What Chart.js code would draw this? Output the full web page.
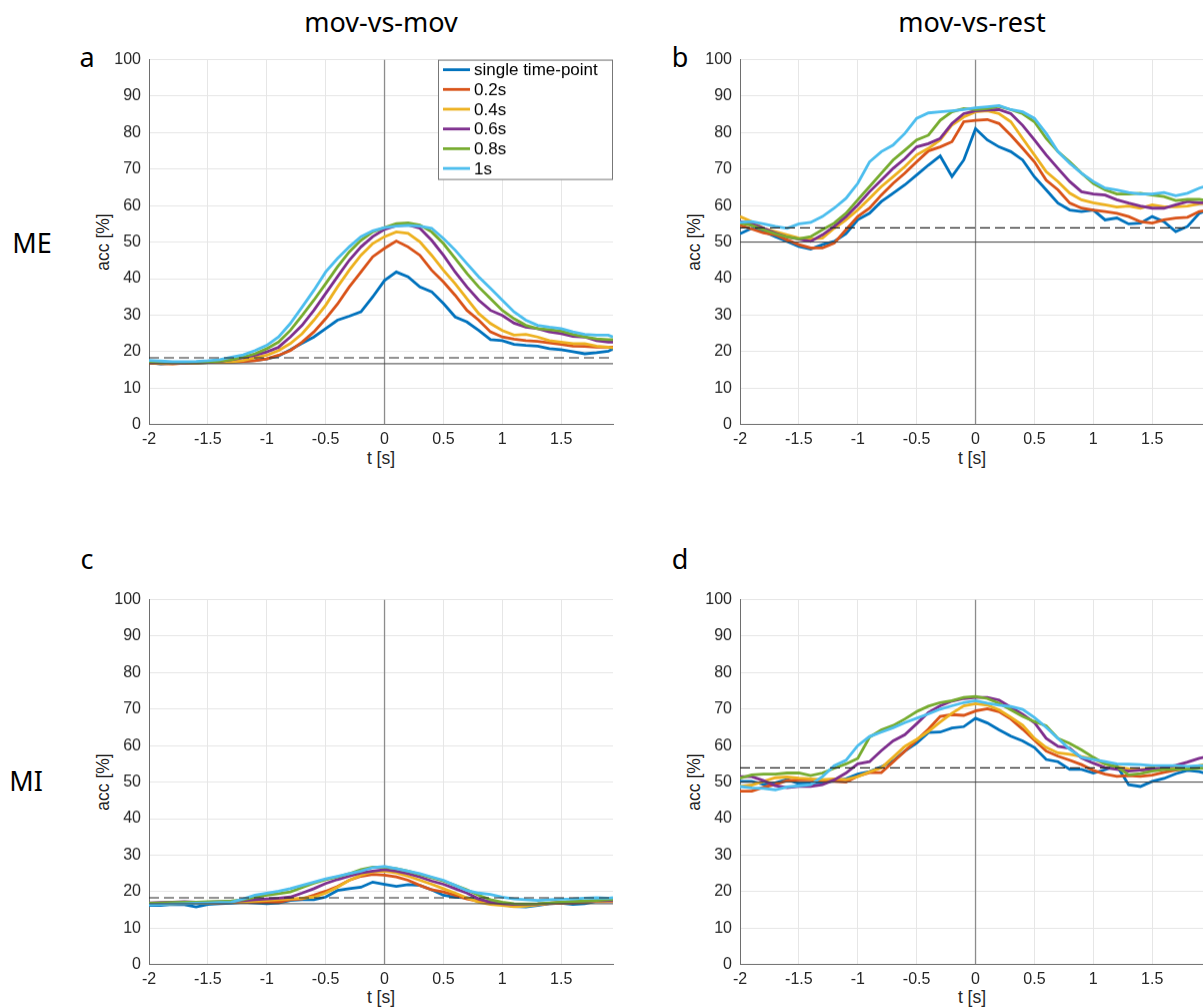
<!DOCTYPE html>
<html>
<head>
<meta charset="utf-8">
<script src="https://cdn.jsdelivr.net/npm/chart.js@4/dist/chart.umd.min.js"></script>
<style>
  body { margin: 0; width: 1203px; height: 1007px; overflow: hidden; background: #fff; position: relative; }
  canvas { position: absolute; }
  .t { position: absolute; transform: translate(-50%, -50%); white-space: nowrap; color: #000; }
  .big { font: 27px "Noto Sans", "Open Sans", sans-serif; }
  .ax { font: 17.5px "Liberation Sans", Arial, sans-serif; color: #262626; }
  .rot { transform: translate(-50%, -50%) rotate(-90deg); }
</style>
</head>
<body>
<div class="t big" style="left:381px;top:21px">mov-vs-mov</div>
<div class="t big" style="left:972px;top:21px">mov-vs-rest</div>
<div class="t big" style="left:87px;top:56px">a</div>
<div class="t big" style="left:680px;top:56px">b</div>
<div class="t big" style="left:87px;top:558px">c</div>
<div class="t big" style="left:680px;top:558px">d</div>
<div class="t big" style="left:32px;top:242px">ME</div>
<div class="t big" style="left:26px;top:780px">MI</div>
<div class="t ax rot" style="left:103px;top:242px">acc [%]</div>
<div class="t ax rot" style="left:694px;top:242px">acc [%]</div>
<div class="t ax rot" style="left:103px;top:782px">acc [%]</div>
<div class="t ax rot" style="left:694px;top:782px">acc [%]</div>
<div class="t ax" style="left:381px;top:458px">t [s]</div>
<div class="t ax" style="left:972px;top:458px">t [s]</div>
<div class="t ax" style="left:381px;top:997px">t [s]</div>
<div class="t ax" style="left:972px;top:997px">t [s]</div>

<canvas id="panelA" width="520" height="400" style="left:101px;top:50px"></canvas>
<canvas id="panelB" width="520" height="400" style="left:692px;top:50px"></canvas>
<canvas id="panelC" width="520" height="400" style="left:101px;top:590px"></canvas>
<canvas id="panelD" width="520" height="400" style="left:692px;top:590px"></canvas>

<script>
// time axis [s]
const times = [-2, -1.9, -1.8, -1.7, -1.6, -1.5, -1.4, -1.3, -1.2, -1.1, -1, -0.9, -0.8, -0.7, -0.6, -0.5, -0.4, -0.3, -0.2, -0.1,
               0, 0.1, 0.2, 0.3, 0.4, 0.5, 0.6, 0.7, 0.8, 0.9, 1, 1.1, 1.2, 1.3, 1.4, 1.5, 1.6, 1.7, 1.8, 1.9, 1.94];

const seriesLabels = ['single time-point', '0.2s', '0.4s', '0.6s', '0.8s', '1s'];
const seriesColors = ['#0072BD', '#D95319', '#EDB120', '#7E2F8E', '#77AC30', '#4DBEEE'];

// a: ME, mov-vs-mov
const aSingle = [17.0, 16.6, 16.8, 16.9, 16.8, 17.0, 17.1, 17.2, 17.3, 17.6, 18.0, 18.8, 20.5, 22.3, 24.0, 26.3, 28.6, 29.7, 30.9, 35.0,
                 39.5, 41.8, 40.5, 37.7, 36.4, 33.2, 29.5, 28.1, 25.8, 23.3, 23.0, 22.0, 21.7, 21.5, 20.8, 20.5, 20.0, 19.4, 19.7, 20.1, 20.8];
const aW02 = [16.8, 16.7, 16.6, 16.8, 16.9, 17.0, 17.0, 17.1, 17.3, 17.5, 18.0, 19.0, 20.3, 22.6, 25.4, 29.0, 33.0, 37.7, 41.8, 46.0,
              48.3, 50.3, 48.7, 46.4, 42.3, 39.1, 35.4, 31.3, 28.6, 25.4, 24.0, 23.4, 23.0, 22.8, 22.4, 22.0, 21.5, 21.4, 21.2, 21.2, 21.2];
const aW04 = [17.0, 16.8, 16.7, 16.8, 16.9, 17.0, 17.1, 17.2, 17.6, 18.3, 19.0, 20.3, 22.2, 24.9, 28.6, 32.7, 37.7, 42.3, 46.4, 49.6,
              51.5, 52.8, 52.4, 50.1, 46.4, 42.3, 38.6, 34.5, 30.4, 27.7, 25.8, 24.5, 24.7, 24.0, 23.0, 22.6, 22.2, 22.2, 21.5, 21.2, 21.0];
const aW06 = [17.2, 17.0, 16.9, 16.9, 17.0, 17.1, 17.3, 17.8, 18.3, 19.0, 19.9, 21.2, 24.0, 27.2, 31.3, 35.9, 40.5, 45.0, 48.7, 51.5,
              53.5, 54.5, 54.7, 53.8, 50.5, 46.4, 41.8, 37.7, 34.1, 31.3, 29.9, 27.8, 26.7, 26.3, 25.4, 24.9, 24.2, 24.0, 23.0, 22.6, 22.6];
const aW08 = [17.3, 17.1, 17.0, 17.0, 17.1, 17.2, 17.4, 17.8, 18.5, 19.4, 20.8, 22.6, 25.8, 29.9, 34.1, 38.6, 43.2, 47.3, 50.5, 52.8,
              54.0, 55.1, 55.3, 54.7, 52.8, 49.6, 45.5, 41.4, 37.7, 34.5, 31.3, 29.0, 27.2, 26.3, 26.0, 25.6, 24.7, 24.0, 23.5, 23.3, 23.3];
const aW10 = [17.6, 17.4, 17.2, 17.2, 17.3, 17.5, 17.8, 18.5, 19.1, 20.3, 21.7, 24.0, 27.7, 32.2, 36.8, 41.8, 45.5, 48.7, 51.5, 53.1,
              54.0, 54.4, 54.6, 54.4, 53.8, 51.0, 47.8, 44.1, 40.5, 37.3, 34.1, 30.9, 28.6, 27.2, 26.7, 26.3, 25.4, 24.7, 24.5, 24.5, 24.0];

// b: ME, mov-vs-rest
const bSingle = [52.3, 53.8, 52.9, 51.5, 50.2, 48.8, 48.1, 49.3, 50.2, 52.3, 56.1, 57.9, 61.1, 63.4, 65.7, 68.4, 71.1, 73.6, 68.0, 72.5,
                 81.1, 78.0, 76.1, 74.8, 72.5, 67.9, 64.3, 60.7, 58.8, 58.4, 58.8, 56.1, 56.6, 55.0, 55.2, 57.0, 55.6, 52.9, 54.3, 57.9, 58.4];
const bW02 = [54.6, 53.6, 52.5, 52.0, 50.6, 49.3, 48.4, 48.4, 49.7, 53.4, 57.0, 59.3, 62.9, 66.1, 68.9, 72.0, 75.0, 76.1, 77.5, 83.0,
              83.4, 83.6, 82.5, 79.3, 75.7, 72.0, 67.0, 64.3, 60.7, 59.3, 58.8, 58.4, 57.9, 57.0, 55.6, 55.2, 56.1, 56.6, 56.8, 58.4, 58.6];
const bW04 = [57.0, 55.6, 53.8, 52.9, 52.0, 51.1, 50.8, 51.1, 53.8, 56.1, 58.8, 62.0, 65.2, 67.9, 70.7, 73.9, 75.7, 78.0, 82.1, 84.3,
              85.7, 86.0, 85.2, 83.0, 78.4, 73.9, 69.3, 66.6, 63.4, 61.6, 60.8, 60.2, 59.6, 59.9, 59.3, 60.2, 59.7, 59.7, 59.9, 60.5, 60.6];
const bW06 = [55.6, 55.0, 53.8, 52.5, 51.4, 50.8, 50.2, 52.0, 54.3, 57.0, 60.2, 63.8, 67.0, 70.2, 72.9, 76.1, 77.0, 78.4, 82.5, 85.2,
              86.0, 86.2, 86.3, 85.2, 82.0, 78.0, 73.9, 70.2, 66.6, 63.8, 63.2, 62.9, 61.6, 60.7, 59.9, 59.3, 59.3, 60.2, 61.1, 60.8, 60.8];
const bW08 = [55.2, 54.6, 53.4, 52.3, 51.4, 50.9, 51.5, 53.4, 55.2, 57.9, 61.6, 65.2, 68.9, 72.5, 75.2, 78.0, 79.3, 83.4, 85.7, 86.6,
              86.3, 86.6, 87.2, 86.3, 85.2, 83.0, 78.4, 74.8, 72.0, 68.9, 66.1, 64.3, 63.2, 63.2, 63.4, 62.9, 62.5, 61.4, 61.7, 61.7, 61.5];
const bW10 = [55.4, 55.6, 55.0, 54.3, 53.8, 55.0, 55.4, 57.0, 59.3, 62.0, 66.1, 72.0, 74.8, 76.6, 79.8, 83.9, 85.4, 85.7, 86.0, 86.3,
              86.8, 87.1, 87.4, 86.3, 85.7, 83.9, 79.8, 74.8, 71.6, 68.9, 66.6, 64.8, 64.3, 63.6, 63.2, 63.2, 63.6, 62.7, 63.4, 64.8, 65.2];

// c: MI, mov-vs-mov
const cSingle = [16.2, 16.2, 16.5, 16.4, 15.8, 16.5, 16.7, 16.8, 17.1, 16.9, 16.7, 16.9, 17.6, 17.8, 17.8, 18.5, 20.3, 20.8, 21.2, 22.6,
                 22.0, 21.4, 21.9, 21.7, 20.5, 19.0, 18.5, 18.3, 17.8, 17.1, 16.5, 15.9, 15.8, 16.2, 16.7, 16.8, 16.5, 16.7, 17.4, 17.6, 17.7];
const cW02 = [16.5, 16.6, 16.7, 16.7, 16.8, 16.8, 16.9, 17.0, 17.1, 17.1, 17.1, 17.1, 17.8, 18.0, 19.0, 20.1, 21.4, 23.1, 24.2, 24.7,
              24.5, 24.0, 23.1, 21.7, 20.5, 19.9, 19.0, 18.0, 17.4, 16.8, 16.5, 16.2, 16.2, 16.4, 16.7, 16.8, 16.9, 17.1, 17.4, 17.4, 17.4];
const cW04 = [16.6, 16.7, 16.7, 16.8, 16.8, 16.9, 17.0, 17.1, 17.2, 17.4, 17.6, 17.8, 18.0, 18.2, 18.5, 19.6, 21.2, 23.1, 24.5, 25.4,
              25.6, 25.1, 24.2, 23.1, 22.0, 20.8, 19.6, 18.3, 17.1, 16.5, 16.2, 15.9, 16.0, 16.4, 16.8, 17.0, 17.1, 17.2, 17.4, 17.5, 17.5];
const cW06 = [16.9, 17.0, 17.1, 17.2, 17.1, 17.1, 17.2, 17.3, 17.5, 17.8, 18.0, 18.2, 18.5, 19.6, 20.8, 22.2, 23.3, 24.2, 25.1, 25.6,
              26.0, 25.6, 24.9, 24.0, 22.9, 22.0, 20.8, 19.6, 18.0, 17.1, 16.7, 16.5, 16.5, 16.6, 16.8, 17.0, 17.2, 17.3, 17.5, 17.6, 17.6];
const cW08 = [16.8, 16.9, 17.0, 17.1, 17.1, 17.2, 17.3, 17.4, 17.8, 18.5, 19.0, 19.4, 19.9, 21.1, 22.3, 23.3, 24.0, 24.9, 26.0, 26.7,
              26.7, 26.3, 25.6, 24.7, 23.8, 22.9, 21.7, 20.5, 19.0, 17.8, 17.1, 16.7, 16.6, 16.7, 16.9, 17.1, 17.3, 17.4, 17.6, 17.8, 17.8];
const cW10 = [16.4, 16.5, 16.6, 16.7, 16.8, 16.9, 17.0, 17.1, 18.0, 19.0, 19.6, 20.1, 20.8, 21.7, 22.6, 23.5, 24.2, 24.9, 25.6, 26.6,
              26.9, 26.3, 25.6, 24.9, 24.0, 23.1, 21.7, 20.3, 19.6, 19.2, 18.5, 18.0, 17.8, 17.6, 17.8, 17.9, 18.0, 18.2, 18.3, 18.2, 18.3];

// d: MI, mov-vs-rest
const dSingle = [50.2, 50.2, 49.4, 49.8, 50.7, 49.6, 49.7, 49.9, 50.3, 50.9, 52.2, 52.9, 54.2, 55.8, 58.5, 60.7, 63.6, 63.7, 64.8, 65.2,
                 67.5, 66.2, 64.3, 62.6, 61.3, 59.5, 56.2, 55.6, 53.5, 53.5, 52.5, 53.4, 54.5, 49.3, 48.8, 50.2, 51.0, 52.3, 53.2, 52.9, 52.5];
const dW02 = [47.5, 47.5, 48.6, 49.4, 50.4, 50.6, 50.6, 50.4, 50.2, 50.0, 51.6, 52.6, 52.6, 55.5, 58.5, 61.5, 64.5, 68.0, 68.5, 68.3,
              69.5, 70.1, 69.3, 67.3, 64.5, 61.5, 58.5, 57.1, 56.0, 54.8, 53.2, 52.2, 51.6, 51.8, 51.6, 51.9, 52.7, 53.3, 53.8, 54.3, 54.5];
const dW04 = [48.8, 49.2, 50.2, 51.2, 51.4, 51.1, 50.9, 50.7, 50.9, 50.7, 51.5, 52.8, 53.9, 56.8, 59.8, 61.7, 63.9, 66.5, 68.9, 70.9,
              71.5, 71.1, 69.8, 67.8, 65.6, 62.0, 59.5, 58.0, 57.6, 57.0, 56.3, 55.0, 54.2, 53.6, 53.4, 53.9, 54.1, 54.0, 53.8, 54.5, 54.8];
const dW06 = [51.5, 51.5, 50.4, 49.0, 48.5, 48.8, 48.8, 49.3, 50.6, 52.5, 55.0, 55.6, 58.6, 61.3, 63.0, 66.0, 69.1, 70.9, 72.2, 72.9,
              73.2, 73.2, 72.5, 70.5, 68.6, 66.3, 62.0, 59.8, 59.3, 56.6, 55.2, 54.0, 53.5, 53.0, 53.3, 53.5, 54.0, 54.6, 55.5, 56.5, 56.8];
const dW08 = [51.1, 52.0, 52.2, 52.2, 52.5, 52.5, 51.8, 52.5, 53.8, 55.0, 56.5, 62.3, 64.3, 65.5, 67.3, 69.3, 70.8, 71.8, 72.3, 73.2,
              73.5, 72.9, 71.6, 69.8, 68.0, 66.6, 65.4, 62.0, 60.6, 58.8, 56.8, 55.0, 54.2, 52.0, 52.3, 53.0, 53.4, 53.5, 53.6, 53.8, 53.8];
const dW10 = [48.8, 48.4, 48.3, 47.9, 48.7, 49.0, 49.3, 51.5, 54.5, 56.0, 60.0, 62.5, 63.7, 64.9, 66.3, 67.5, 68.7, 70.0, 70.9, 71.8,
              72.3, 71.6, 71.1, 70.7, 69.9, 67.7, 65.0, 62.0, 59.0, 56.8, 56.2, 55.6, 55.0, 54.9, 54.8, 54.5, 54.5, 54.5, 54.3, 54.5, 54.5];

// chance level (solid) and significance threshold (dashed)
const chanceMovMov = 16.67;
const sigMovMov = 18.3;
const chanceMovRest = 50;
const sigMovRest = 53.9;

const tickFont = { family: '"Liberation Sans", Arial, sans-serif', size: 16 };

// legend box drawn inside the chart area, top right
const boxLegend = {
    id: 'boxLegend',
    afterDatasetsDraw(chart, args, opts) {
        if (!opts.show) return;
        const ctx = chart.ctx;
        const area = chart.chartArea;
        const w = 175, h = 120;
        const x0 = area.right - w, y0 = area.top;
        ctx.save();
        ctx.fillStyle = '#fff';
        ctx.fillRect(x0, y0, w, h);
        ctx.strokeStyle = '#777';
        ctx.lineWidth = 1;
        ctx.strokeRect(x0 + 0.5, y0 + 0.5, w - 1, h - 1);
        ctx.font = '17px "Liberation Sans", Arial, sans-serif';
        ctx.textBaseline = 'middle';
        seriesLabels.forEach((label, i) => {
            const y = y0 + 10 + i * 19.7;
            ctx.strokeStyle = seriesColors[i];
            ctx.lineWidth = 2.8;
            ctx.beginPath();
            ctx.moveTo(x0 + 5, y);
            ctx.lineTo(x0 + 32, y);
            ctx.stroke();
            ctx.fillStyle = '#000';
            ctx.fillText(label, x0 + 36, y + 1);
        });
        ctx.restore();
    }
};

function toPoints(values) {
    return times.map((t, i) => ({ x: t, y: values[i] }));
}

function hLine(y) {
    return [{ x: times[0], y: y }, { x: times[times.length - 1], y: y }];
}

// move / resize the canvas so the plot area lands on the wanted box
function placeChart(chart, canvas, box) {
    for (let k = 0; k < 3; k++) {
        const a = chart.chartArea;
        const dw = box.width - (a.right - a.left);
        const dh = box.height - (a.bottom - a.top);
        if (Math.abs(dw) < 0.5 && Math.abs(dh) < 0.5) break;
        chart.resize(chart.width + dw, chart.height + dh);
    }
    const a = chart.chartArea;
    canvas.style.left = (box.left - a.left) + 'px';
    canvas.style.top = (box.top - a.top) + 'px';
}

function renderPanel(canvasId, seriesList, chance, sig, showLegend, box) {
    const canvas = document.getElementById(canvasId);
    if (!canvas) return;

    const datasets = seriesList.map((values, i) => ({
        label: seriesLabels[i],
        data: toPoints(values),
        borderColor: seriesColors[i],
        borderWidth: 2.8,
        order: 50 - i
    }));

    // zero line under the curves, chance lines over them
    datasets.push({ label: 'zero', data: [{ x: 0, y: 0 }, { x: 0, y: 100 }], borderColor: '#8c8c8c', borderWidth: 1.3, order: 100 });
    datasets.push({ label: 'chance', data: hLine(chance), borderColor: '#404040', borderWidth: 1, order: 1 });
    datasets.push({ label: 'sig', data: hLine(sig), borderColor: '#262626', borderWidth: 1.2, borderDash: [10, 5], order: 0 });

    const chart = new Chart(canvas.getContext('2d'), {
        type: 'line',
        data: { datasets: datasets },
        options: {
            responsive: false,
            maintainAspectRatio: false,
            animation: false,
            devicePixelRatio: 1,
            layout: { padding: { left: 0, right: 8, top: 10, bottom: 0 } },
            elements: {
                point: { radius: 0, hoverRadius: 0 },
                line: { tension: 0, fill: false, borderCapStyle: 'butt' }
            },
            plugins: {
                legend: { display: false },
                tooltip: { enabled: false },
                boxLegend: { show: showLegend }
            },
            scales: {
                x: {
                    type: 'linear',
                    min: -2,
                    max: 1.94,
                    afterFit: s => { s.height = 26; },
                    ticks: {
                        stepSize: 0.5,
                        includeBounds: false,
                        autoSkip: false,
                        maxRotation: 0,
                        padding: 5,
                        color: '#262626',
                        font: tickFont,
                        callback: v => String(Math.round(v * 10) / 10)
                    },
                    grid: { color: '#e6e6e6', lineWidth: 1, drawTicks: false },
                    border: { color: '#6e6e6e', width: 1 }
                },
                y: {
                    min: 0,
                    max: 100,
                    afterFit: s => { s.width = 48; },
                    ticks: {
                        stepSize: 10,
                        padding: 8,
                        color: '#262626',
                        font: tickFont
                    },
                    grid: { color: '#e6e6e6', lineWidth: 1, drawTicks: false },
                    border: { color: '#6e6e6e', width: 1 }
                }
            }
        },
        plugins: [boxLegend]
    });

    placeChart(chart, canvas, box);
}

renderPanel('panelA', [aSingle, aW02, aW04, aW06, aW08, aW10], chanceMovMov, sigMovMov, true,
            { left: 149, top: 60, width: 464, height: 364 });
renderPanel('panelB', [bSingle, bW02, bW04, bW06, bW08, bW10], chanceMovRest, sigMovRest, false,
            { left: 740, top: 60, width: 464, height: 364 });
renderPanel('panelC', [cSingle, cW02, cW04, cW06, cW08, cW10], chanceMovMov, sigMovMov, false,
            { left: 149, top: 600, width: 464, height: 364 });
renderPanel('panelD', [dSingle, dW02, dW04, dW06, dW08, dW10], chanceMovRest, sigMovRest, false,
            { left: 740, top: 600, width: 464, height: 364 });
</script>
</body>
</html>
